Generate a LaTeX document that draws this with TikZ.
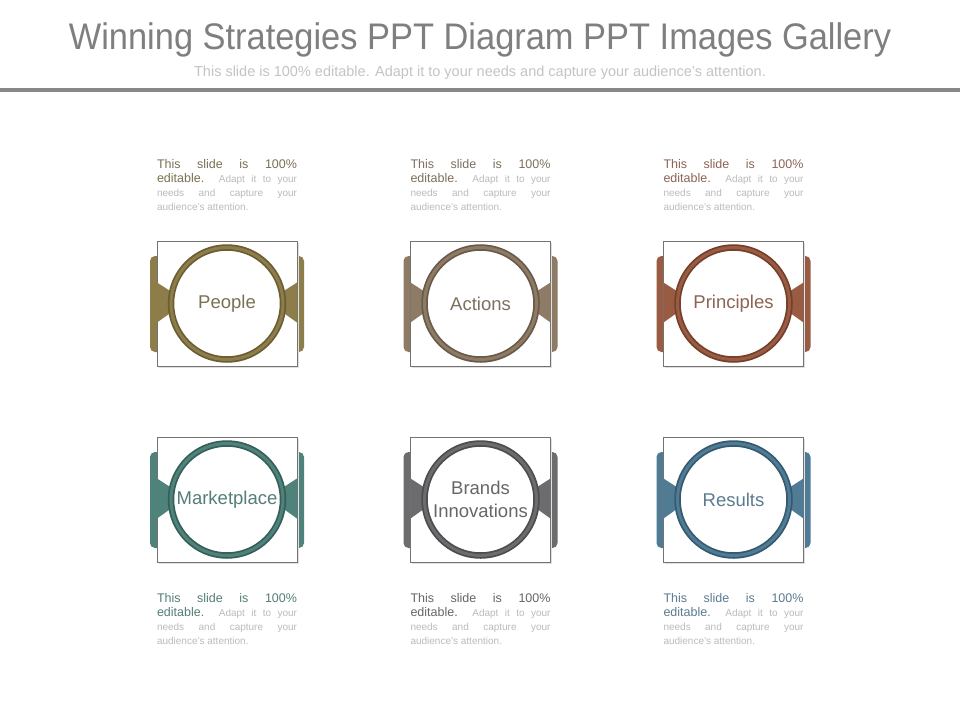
\documentclass[tikz,border=0pt]{standalone}
\usepackage{fontspec}
\usepackage{graphicx}
\setmainfont{Liberation Sans}
\usetikzlibrary{calc}
\definecolor{titlegrey}{HTML}{7F7F7F}
\definecolor{subgrey}{HTML}{C4C4C4}
\definecolor{rulegrey}{HTML}{888888}
\definecolor{smallgrey}{HTML}{BBBBBB}
\definecolor{cPeople}{HTML}{8C7D4B}
\definecolor{dPeople}{HTML}{6B5E33}
\definecolor{tPeople}{HTML}{7A7152}
\definecolor{cActions}{HTML}{8D7B66}
\definecolor{dActions}{HTML}{6A5A48}
\definecolor{tActions}{HTML}{7D7060}
\definecolor{cPrinciples}{HTML}{9A5B43}
\definecolor{dPrinciples}{HTML}{74402C}
\definecolor{tPrinciples}{HTML}{8C6454}
\definecolor{cMarket}{HTML}{4F827A}
\definecolor{dMarket}{HTML}{355F58}
\definecolor{tMarket}{HTML}{557D77}
\definecolor{cBrands}{HTML}{6C6B6D}
\definecolor{dBrands}{HTML}{4D4C4E}
\definecolor{tBrands}{HTML}{666666}
\definecolor{cResults}{HTML}{4F7B94}
\definecolor{dResults}{HTML}{355A70}
\definecolor{tResults}{HTML}{5A7C8E}
\tikzset{
  unitbox/.style={draw=black!55, line width=0.6pt, fill=white, minimum width=140pt, minimum height=125pt, inner sep=0pt},
  ringnode/.style={circle, fill=white, inner sep=0pt, minimum size=112pt},
  labeltext/.style={font=\fontsize{18.5}{23}\selectfont, align=center, inner sep=0pt},
  desctext/.style={text width=140pt, align=justify, inner sep=0pt, anchor=north, font=\fontsize{10}{14}\selectfont},
}
% #1 name, #2 cx, #3 cy, #4 colour key, #5 label, #6 text y offset
\newcommand\wsunit[6]{%
  \begin{scope}[shift={(#2,#3)}]
    \fill[c#4, rounded corners=5pt] (-77,-47.5) rectangle (77,48.5);
    \fill[black!12] (-68.5,-61) rectangle (71.5,64);
    \node[unitbox] (#1box) at (0,0) {};
    \fill[c#4] (-70,-21) -- (-56,-12) -- (-56,9) -- (-70,19) -- cycle;
    \fill[c#4] (70,-21) -- (56,-12) -- (56,9) -- (70,19) -- cycle;
    \node[ringnode] (#1ring) at (0,0) {};
    \draw[d#4, line width=6.5pt] (#1ring.center) circle[radius=56pt];
    \draw[c#4, line width=3pt] (#1ring.center) circle[radius=56pt];
    \node[labeltext, text=t#4] (#1label) at (0,0) {#5};
    \node[desctext] (#1text) at (0,#6) {{\color{t#4}\fontsize{12.5}{14}\selectfont This slide is 100\%\linebreak editable.} {\color{smallgrey}Adapt it to your\linebreak needs and capture your\linebreak audience's attention.}};
  \end{scope}}
\begin{document}
\begin{tikzpicture}[x=1pt, y=-1pt]
  \useasboundingbox[fill=white] (0,0) rectangle (960,720);
  \node[font=\fontsize{37}{42}\selectfont, text=titlegrey, inner sep=0pt] (title) at (480,40) {\scalebox{0.93}[1]{Winning Strategies PPT Diagram PPT Images Gallery}};
  \node[font=\fontsize{14.5}{16}\selectfont, text=subgrey, inner sep=0pt] (subtitle) at (480,73) {This slide is 100\% editable. Adapt it to your needs and capture your audience's attention.};
  \coordinate (ruleL) at (0,90);
  \coordinate (ruleR) at (960,90);
  \draw[rulegrey, line width=4pt] (ruleL) -- (ruleR);
  \wsunit{people}{227}{303.5}{People}{People}{-144}
  \wsunit{actions}{480.5}{303.5}{Actions}{Actions}{-144}
  \wsunit{principles}{733.5}{303.5}{Principles}{Principles}{-144}
  \wsunit{market}{227}{499.5}{Market}{Marketplace}{93.5}
  \wsunit{brands}{480.5}{499.5}{Brands}{Brands\\Innovations}{93.5}
  \wsunit{results}{733.5}{499.5}{Results}{Results}{93.5}
\end{tikzpicture}
\end{document}
